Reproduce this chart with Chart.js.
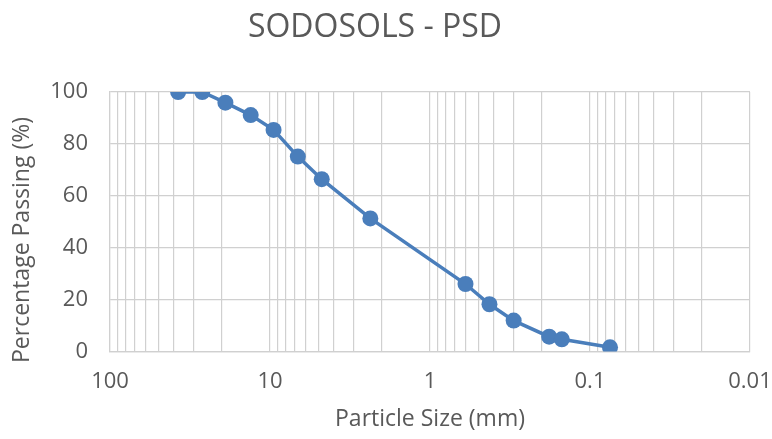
<!DOCTYPE html>
<html>
<head>
<meta charset="utf-8">
<script src="https://cdn.jsdelivr.net/npm/chart.js@4/dist/chart.umd.min.js"></script>
<style>
  html, body { margin: 0; padding: 0; background: #ffffff; }
  #wrap { width: 772px; height: 439px; }
</style>
</head>
<body>
<div id="wrap"><canvas id="psd" width="772" height="439"></canvas></div>
<script>
// Sieve sizes (mm) and cumulative percentage passing
const particleSize = [37.5, 26.5, 19, 13.2, 9.5, 6.7, 4.75, 2.36, 0.6, 0.425, 0.3, 0.18, 0.15, 0.075];
const percentPassing = [100, 100, 95.9, 91.1, 85.4, 75.1, 66.4, 51.3, 26.0, 18.2, 11.9, 5.7, 4.7, 1.6];

// Labelled decades on the size axis and the minor steps between them
const decadeTicks = [100, 10, 1, 0.1, 0.01];
const minorSteps = [2, 3, 4, 5, 6, 7, 8, 9];
const passingTicks = [0, 20, 40, 60, 80, 100];

const FONT = "'Open Sans', 'Liberation Sans', sans-serif";
const TEXT = '#595959';
const GRID = '#d0d0d0';
const BLUE = '#4a7ebb';
const Y_TITLE = 'Percentage Passing (%)';

const points = particleSize.map((s, i) => ({ x: s, y: percentPassing[i] }));

// Vertical title of the passing axis, set a little below the plot's middle
const yTitlePlugin = {
  id: 'yTitle',
  afterDraw(chart) {
    const ctx = chart.ctx;
    ctx.save();
    ctx.translate(22, 240);
    ctx.rotate(-Math.PI / 2);
    ctx.fillStyle = TEXT;
    ctx.font = "23px " + FONT;
    ctx.textAlign = 'center';
    ctx.textBaseline = 'middle';
    ctx.fillText(Y_TITLE, 0, 0);
    ctx.restore();
  }
};

new Chart(document.getElementById('psd'), {
  type: 'line',
  data: {
    datasets: [{
      data: points,
      borderColor: BLUE,
      backgroundColor: BLUE,
      borderWidth: 3.5,
      pointRadius: 8,
      pointHoverRadius: 8,
      pointBorderWidth: 0,
      tension: 0,
      fill: false
    }]
  },
  plugins: [yTitlePlugin],
  options: {
    responsive: false,
    animation: false,
    layout: { padding: { left: 0, right: 22, top: 0, bottom: 0 } },
    plugins: {
      legend: { display: false },
      tooltip: { enabled: false },
      title: {
        display: true,
        text: 'SODOSOLS - PSD',
        color: TEXT,
        font: { family: FONT, size: 32, weight: 'normal' },
        padding: { top: 9, bottom: 44.6 }
      }
    },
    scales: {
      x: {
        type: 'logarithmic',
        reverse: true,
        min: 0.01,
        max: 100,
        afterBuildTicks(scale) {
          const vals = [];
          decadeTicks.slice(1).forEach(d => {
            vals.push(d);
            minorSteps.forEach(m => vals.push(+(d * m).toPrecision(3)));
          });
          vals.push(decadeTicks[0]);
          scale.ticks = vals.map(v => ({ value: v }));
        },
        afterFit(scale) { scale.height = 87.5; },
        grid: { color: GRID, lineWidth: 1.2, drawTicks: false },
        border: { display: true, color: GRID, width: 1.2 },
        ticks: {
          autoSkip: false,
          maxRotation: 0,
          padding: 17,
          color: TEXT,
          font: { family: FONT, size: 22 },
          callback(value) {
            return decadeTicks.includes(value) ? String(value) : '';
          }
        },
        title: {
          display: true,
          text: 'Particle Size (mm)',
          color: TEXT,
          font: { family: FONT, size: 23 },
          padding: { top: 0, bottom: 6 }
        }
      },
      y: {
        min: 0,
        max: 100,
        afterBuildTicks(scale) {
          scale.ticks = passingTicks.map(v => ({ value: v }));
        },
        afterFit(scale) { scale.width = 110; },
        grid: { color: GRID, lineWidth: 1.2, drawTicks: false },
        border: { display: true, color: GRID, width: 1.2 },
        ticks: {
          padding: 22,
          color: TEXT,
          font: { family: FONT, size: 22 }
        }
      }
    }
  }
});
</script>
</body>
</html>
